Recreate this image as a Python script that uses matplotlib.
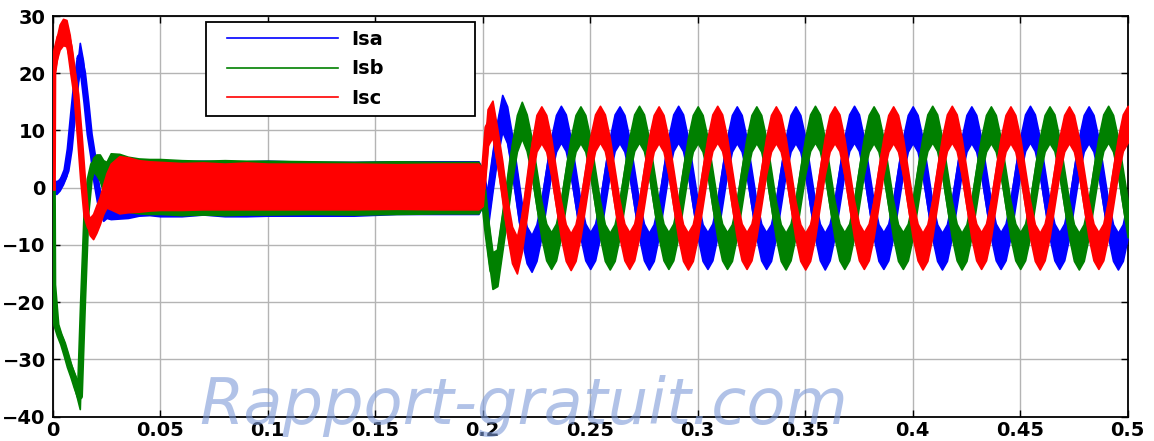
import numpy as np
import matplotlib
matplotlib.use("Agg")
import matplotlib.pyplot as plt
from matplotlib.lines import Line2D
from matplotlib.legend_handler import HandlerLine2D

# ---------------- data ----------------
# start-up transient (0 .. 0.025 s)
t_tr = [0.0, 0.0002, 0.0017, 0.0032, 0.0048, 0.0064, 0.0079, 0.0095, 0.0110,
        0.0126, 0.0141, 0.0157, 0.0172, 0.0188, 0.0203, 0.0219, 0.0235, 0.0250]
isa_tr = [0, 0.3, 0.0, 0.5, 1.5, 3.0, 6.7, 13.0, 18.6, 22.8, 20.0, 14.8, 9.3, 5.5, 1.0, -2.5, -3.5, -2.5]
isb_tr = [0, -17, -24, -25.8, -27.3, -29.3, -31.3, -33.0, -34.8, -36.5, -20.0, -4.4, 1.4, 4.0, 4.0, 3.5, 2.0, 1.0]
isc_tr = [0, 20, 24, 26.3, 27.2, 27.0, 24.5, 20.0, 16.2, 9.0, 1.5, -5.0, -6.8, -6.8, -5.5, -4.0, -2.0, -0.5]
# half thickness of each trace during the transient
isa_tr_hw = [0.3, 1.1, 1.1, 1.0, 0.9, 0.9, 0.9, 1.0, 1.3, 2.5, 2.2, 1.3, 1.0, 1.0, 1.3, 1.8, 2.3, 2.8]
isb_tr_hw = [0.3, 1.0, 0.8, 0.8, 0.8, 0.9, 1.0, 1.1, 1.5, 2.2, 1.0, 0.8, 0.8, 1.2, 1.8, 2.3, 2.8, 3.5]
isc_tr_hw = [0.3, 1.5, 1.9, 2.2, 2.3, 2.3, 2.2, 2.0, 1.8, 1.5, 1.2, 1.0, 1.5, 2.2, 2.4, 2.4, 2.6, 3.0]

# noisy no-load interval (0.025 .. 0.2 s): centre and half band
t_nz = [0.027, 0.031, 0.035, 0.04, 0.045, 0.05, 0.06, 0.07, 0.08, 0.09, 0.1, 0.12, 0.14, 0.16, 0.18, 0.198]
isa_nz = [-1.5, -0.8, -0.3, 0, 0, -0.2, -0.2, 0, -0.2, -0.2, -0.1, -0.2, -0.2, 0, 0, 0]
isa_nz_hw = [4.0, 4.6, 5.0, 4.9, 4.8, 4.8, 4.8, 4.7, 4.8, 4.8, 4.8, 4.7, 4.7, 4.6, 4.6, 4.6]
isb_nz = [1.2, 1.0, 0.6, 0.3, 0.2, 0.2, 0, 0, 0, 0, 0, 0, -0.1, 0, 0, 0]
isb_nz_hw = [4.8, 4.9, 4.8, 4.8, 4.8, 4.8, 4.8, 4.7, 4.8, 4.7, 4.7, 4.6, 4.6, 4.6, 4.5, 4.5]
isc_nz = [0.2, 0.5, 0.5, 0.3, 0.3, 0.3, 0.2, 0.3, 0.2, 0.3, 0.2, 0.2, 0.2, 0.2, 0.2, 0.2]
isc_nz_hw = [4.0, 5.0, 4.8, 4.5, 4.3, 4.2, 4.1, 4.1, 4.0, 4.1, 4.0, 4.0, 4.0, 3.9, 4.0, 4.0]

# loaded interval (0.2 .. 0.5 s), 133 readings each, equally spaced in time
t_ss_start, t_ss_end, n_ss = 0.2, 0.5, 133
isa_ss = [0, -4.0, 2.5, 8.5, 13.0, 11.0, 6.0, 0, -6.0, -10.0,
          -11.5, -9.6, -5.5, 0, 5.5, 9.5, 11.1, 9.6, 5.5, 0, -5.5, -9.5,
          -11.0, -9.5, -5.5, 0, 5.5, 9.6, 11.0, 9.5, 5.5, 0, -5.5, -9.5,
          -11.1, -9.6, -5.5, 0, 5.6, 9.6, 11.1, 9.6, 5.5, 0, -5.5, -9.6,
          -11.0, -9.5, -5.5, 0, 5.5, 9.5, 11.0, 9.5, 5.5, 0, -5.5, -9.5,
          -11.0, -9.6, -5.5, 0, 5.5, 9.5, 11.0, 9.5, 5.6, 0, -5.5, -9.5,
          -11.1, -9.5, -5.5, 0, 5.5, 9.6, 11.1, 9.6, 5.5, 0, -5.5, -9.6,
          -11.0, -9.5, -5.5, 0, 5.5, 9.5, 11.0, 9.5, 5.5, 0, -5.6, -9.6,
          -11.1, -9.6, -5.5, 0, 5.5, 9.5, 11.0, 9.5, 5.5, 0, -5.5, -9.5,
          -11.0, -9.5, -5.5, 0, 5.5, 9.6, 11.1, 9.6, 5.5, 0, -5.5, -9.5,
          -11.0, -9.5, -5.6, 0, 5.5, 9.5, 11.0, 9.5, 5.5, 0, -5.5, -9.6,
          -11.1, -9.6, -5.5]
isb_ss = [0, -8.0, -14.5, -14.0, -8.0, -2.0, 4.5, 9.5,
          11.8, 9.6, 5.5, 0, -5.5, -9.5, -11.0, -9.5, -5.5, 0, 5.5, 9.5,
          11.0, 9.5, 5.5, 0, -5.5, -9.6, -11.1, -9.6, -5.5, 0, 5.5, 9.6,
          11.1, 9.6, 5.5, 0, -5.5, -9.5, -11.0, -9.5, -5.5, 0, 5.5, 9.5,
          11.0, 9.5, 5.6, 0, -5.5, -9.5, -11.0, -9.6, -5.5, 0, 5.5, 9.5,
          11.0, 9.5, 5.5, 0, -5.6, -9.6, -11.1, -9.5, -5.5, 0, 5.5, 9.6,
          11.1, 9.6, 5.5, 0, -5.5, -9.5, -11.0, -9.5, -5.5, 0, 5.5, 9.5,
          11.0, 9.5, 5.5, 0, -5.5, -9.6, -11.0, -9.5, -5.5, 0, 5.6, 9.6,
          11.1, 9.6, 5.5, 0, -5.5, -9.5, -11.1, -9.6, -5.5, 0, 5.5, 9.5,
          11.0, 9.5, 5.5, 0, -5.5, -9.5, -11.0, -9.5, -5.5, 0, 5.5, 9.5,
          11.0, 9.6, 5.5, 0, -5.5, -9.6, -11.1, -9.6, -5.5, 0, 5.5, 9.6,
          11.1, 9.5, 5.5, 0, -5.5]
isc_ss = [0, 10.5, 12.0, 7.0, 1.5, -5.0, -10.0, -11.8, -8.0, -2.0, 4.5, 9.5,
          11.0, 9.5, 5.5, 0, -5.5, -9.6, -11.2, -9.6, -5.5, 0, 5.6, 9.6,
          11.1, 9.6, 5.5, 0, -5.5, -9.5, -11.0, -9.5, -5.5, 0, 5.5, 9.5,
          11.0, 9.5, 5.5, 0.1, -5.5, -9.6, -11.1, -9.6, -5.5, 0, 5.5, 9.6,
          11.1, 9.6, 5.6, 0, -5.5, -9.5, -11.0, -9.5, -5.5, 0, 5.5, 9.5,
          11.0, 9.5, 5.5, 0, -5.6, -9.6, -11.1, -9.6, -5.6, 0, 5.5, 9.5,
          11.0, 9.6, 5.5, 0, -5.5, -9.5, -11.0, -9.5, -5.5, 0, 5.5, 9.5,
          11.0, 9.5, 5.5, 0, -5.5, -9.5, -11.1, -9.6, -5.5, 0, 5.6, 9.6,
          11.1, 9.6, 5.5, 0, -5.5, -9.5, -11.0, -9.5, -5.5, 0, 5.5, 9.5,
          11.0, 9.5, 5.5, 0, -5.5, -9.6, -11.1, -9.5, -5.5, 0, 5.5, 9.5,
          11.0, 9.5, 5.5, 0, -5.5, -9.5, -11.0, -9.5, -5.5, 0, 5.5, 9.6,
          11.1]
ripple_ss = 3.2   # half height of the PWM ripple band in the loaded interval

labels = ["Isa", "Isb", "Isc"]
colors = ["#0000ff", "#008000", "#ff0000"]
x_ticks = [0, 0.05, 0.1, 0.15, 0.2, 0.25, 0.3, 0.35, 0.4, 0.45, 0.5]
x_tick_labels = ["0", "0.05", "0.1", "0.15", "0.2", "0.25", "0.3", "0.35", "0.4", "0.45", "0.5"]
y_ticks = [-40, -30, -20, -10, 0, 10, 20, 30]
watermark = "Rapport-gratuit.com"

# ---------------- figure ----------------
plt.rcParams["font.family"] = "DejaVu Sans"

W, H = 1154, 441
fig = plt.figure(figsize=(W / 100, H / 100), dpi=100)
ax = fig.add_axes([52.7 / W, 24.5 / H, 1075 / W, 400.5 / H])

t_ss = np.linspace(t_ss_start, t_ss_end, n_ss)
t_all = np.concatenate([t_tr, t_nz, t_ss])

series = [
    (isa_tr, isa_tr_hw, isa_nz, isa_nz_hw, isa_ss),
    (isb_tr, isb_tr_hw, isb_nz, isb_nz_hw, isb_ss),
    (isc_tr, isc_tr_hw, isc_nz, isc_nz_hw, isc_ss),
]
for i, ((tr, tr_hw, nz, nz_hw, ss), col) in enumerate(zip(series, colors)):
    mid = np.concatenate([tr, nz, ss])
    hw = np.concatenate([tr_hw, nz_hw, np.full(len(ss), ripple_ss)])
    z = 3 + i
    ax.fill_between(t_all, mid - hw, mid + hw, color=col, lw=1.2, zorder=z)
    ax.plot(t_all, mid, color=col, lw=4.6, zorder=z, solid_joinstyle="round")

ax.set_xlim(0, 0.5)
ax.set_ylim(-40, 30)
ax.set_xticks(x_ticks)
ax.set_xticklabels(x_tick_labels)
ax.set_yticks(y_ticks)
ax.tick_params(direction="in", top=True, right=True, length=5, width=1,
               labelsize=14, colors="black")
ax.tick_params(axis="x", pad=3.5)
ax.tick_params(axis="y", pad=5)
for lab in ax.get_xticklabels() + ax.get_yticklabels():
    lab.set_fontweight("bold")
ax.set_axisbelow(True)
ax.grid(True, color="#b4b4b4", lw=1.0, ls="-")
for sp in ax.spines.values():
    sp.set_linewidth(1.3)
    sp.set_color("black")

handles = [Line2D([], [], color=c, lw=1.2) for c in colors]
leg = ax.legend(handles, labels, loc="upper left", mode="expand",
                bbox_to_anchor=(205.7 / W, 1 - 126.7 / H, (475 - 205.7) / W, (126.7 - 21.7) / H),
                bbox_transform=fig.transFigure, borderaxespad=0, fancybox=False,
                framealpha=1, edgecolor="black", handlelength=6.4, handletextpad=0.65,
                labelspacing=0.55, borderpad=0.41,
                handler_map={Line2D: HandlerLine2D(xpad=0.67)},
                prop={"weight": "bold", "size": 14})
leg.get_frame().set_linewidth(1.3)
leg.set_zorder(20)

fig.text(199 / W, 1 - 424 / H, watermark, fontsize=46, style="italic",
         fontweight="normal", family="DejaVu Sans", color="#7d9ad8",
         alpha=0.6, ha="left", va="baseline", zorder=30)

fig.savefig("out.png", dpi=100)
